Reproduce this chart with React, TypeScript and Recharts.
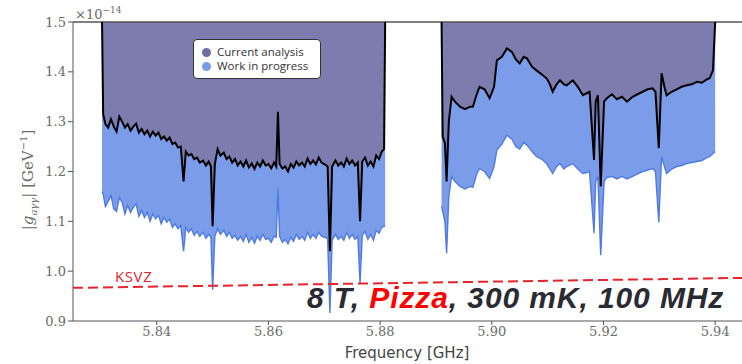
import React from 'react'
import { ComposedChart, Area, Line, XAxis, YAxis, ReferenceLine, Legend } from 'recharts'

// frequency (GHz) and coupling limits (x1e-14 GeV^-1), first scan window
const freqLow = [
  5.8302,
  5.8304, 5.8308, 5.8313, 5.8318, 5.8323, 5.8328, 5.8333, 5.8338, 5.8343, 5.8348,
  5.8353, 5.8358, 5.8363, 5.8368, 5.8373, 5.8378, 5.8383, 5.8388, 5.8393, 5.8398,
  5.8403, 5.8408, 5.8413, 5.8418, 5.8423, 5.8428, 5.8433, 5.8438, 5.8443, 5.8448,
  5.8452, 5.8457, 5.8462, 5.8467, 5.8472, 5.8477,
  5.8483, 5.8488, 5.8493, 5.8497, 5.85, 5.8504, 5.8509, 5.8514, 5.852, 5.8525,
  5.853, 5.8535, 5.854, 5.8545, 5.855, 5.8555, 5.856, 5.8565, 5.857, 5.8575,
  5.858, 5.8585, 5.859, 5.8595, 5.86, 5.8605, 5.861, 5.8614, 5.8617, 5.862,
  5.8625, 5.863, 5.8635, 5.864, 5.8645, 5.865, 5.8655, 5.866, 5.8665, 5.867,
  5.8675, 5.868, 5.8685, 5.869, 5.8695, 5.87, 5.8706, 5.871, 5.8714, 5.872,
  5.8725, 5.873, 5.8735, 5.874, 5.8745, 5.875, 5.8755, 5.876, 5.8764, 5.8768,
  5.8773, 5.8778, 5.8783, 5.8788, 5.8793, 5.8798, 5.8803, 5.8807, 5.8809,
]
const currentLow = [
  1.5,
  1.315, 1.295, 1.288, 1.305, 1.29, 1.28, 1.31, 1.3, 1.288, 1.295,
  1.282, 1.29, 1.296, 1.278, 1.285, 1.275, 1.282, 1.27, 1.28, 1.272,
  1.278, 1.265, 1.27, 1.262, 1.268, 1.255, 1.258, 1.248, 1.25, 1.18,
  1.24, 1.232, 1.235, 1.225, 1.228, 1.218,
  1.222, 1.212, 1.22, 1.21, 1.09, 1.215, 1.245, 1.232, 1.238, 1.225,
  1.23, 1.218, 1.225, 1.212, 1.22, 1.21, 1.222, 1.208, 1.216, 1.205,
  1.218, 1.21, 1.222, 1.212, 1.215, 1.206, 1.218, 1.21, 1.32, 1.215,
  1.206, 1.21, 1.2, 1.215, 1.208, 1.22, 1.212, 1.218, 1.21, 1.226,
  1.215, 1.222, 1.214, 1.228, 1.218, 1.215, 1.21, 1.04, 1.21, 1.222,
  1.212, 1.218, 1.21, 1.226, 1.215, 1.222, 1.212, 1.218, 1.1, 1.22,
  1.228, 1.212, 1.22, 1.21, 1.232, 1.225, 1.24, 1.245, 1.5,
]
const progressLow = [
  1.16,
  1.155, 1.13, 1.14, 1.152, 1.125, 1.12, 1.148, 1.138, 1.115, 1.132,
  1.118, 1.128, 1.135, 1.11, 1.122, 1.108, 1.118, 1.1, 1.115, 1.105,
  1.112, 1.095, 1.108, 1.098, 1.105, 1.088, 1.095, 1.085, 1.092, 1.04,
  1.088, 1.078, 1.085, 1.072, 1.08, 1.07,
  1.078, 1.066, 1.074, 1.068, 0.963, 1.07, 1.085, 1.074, 1.082, 1.07,
  1.078, 1.066, 1.072, 1.062, 1.07, 1.06, 1.074, 1.058, 1.068, 1.056,
  1.07, 1.062, 1.074, 1.064, 1.066, 1.058, 1.07, 1.068, 1.166, 1.07,
  1.058, 1.064, 1.055, 1.068, 1.06, 1.074, 1.064, 1.07, 1.062, 1.078,
  1.066, 1.074, 1.066, 1.078, 1.07, 1.068, 1.066, 0.916, 1.062, 1.074,
  1.064, 1.07, 1.062, 1.078, 1.066, 1.074, 1.064, 1.07, 0.976, 1.072,
  1.08, 1.064, 1.074, 1.062, 1.082, 1.076, 1.088, 1.09, 1.09,
]

// second scan window
const freqHigh = [
  5.891, 5.8912, 5.8916, 5.8919, 5.8923, 5.8928, 5.8934, 5.8943, 5.8952, 5.8961,
  5.8966, 5.8973, 5.8978, 5.8987, 5.8996, 5.9004, 5.9009, 5.9018, 5.9027, 5.9036,
  5.9043, 5.905, 5.9057, 5.9063, 5.9072, 5.908, 5.9089, 5.9098, 5.9104, 5.9109,
  5.9116, 5.9122, 5.9129, 5.9134, 5.9145, 5.9154, 5.9163, 5.917, 5.9175, 5.9183,
  5.9186, 5.919, 5.9195, 5.9201, 5.9206, 5.9215, 5.9224, 5.9233, 5.9242, 5.9252,
  5.9261, 5.927, 5.9279, 5.9288, 5.9293, 5.9299, 5.9304, 5.9309, 5.9313, 5.9322,
  5.9331, 5.934, 5.9349, 5.9358, 5.9367, 5.9376, 5.9385, 5.939, 5.9396, 5.94,
]
const currentHigh = [
  1.5, 1.27, 1.257, 1.18, 1.3, 1.35, 1.34, 1.33, 1.325, 1.33,
  1.33, 1.355, 1.37, 1.365, 1.347, 1.37, 1.423, 1.43, 1.447, 1.44,
  1.425, 1.417, 1.43, 1.427, 1.41, 1.403, 1.395, 1.387, 1.375, 1.36,
  1.375, 1.383, 1.375, 1.373, 1.383, 1.37, 1.353, 1.357, 1.36, 1.223,
  1.34, 1.353, 1.17, 1.34, 1.347, 1.355, 1.345, 1.35, 1.34, 1.35,
  1.355, 1.36, 1.365, 1.367, 1.36, 1.247, 1.397, 1.37, 1.353, 1.36,
  1.365, 1.37, 1.373, 1.375, 1.38, 1.378, 1.385, 1.387, 1.403, 1.5,
]
const progressHigh = [
  1.13, 1.12, 1.1, 1.036, 1.15, 1.19, 1.18, 1.17, 1.165, 1.17,
  1.168, 1.195, 1.206, 1.2, 1.186, 1.21, 1.243, 1.255, 1.273, 1.265,
  1.25, 1.245, 1.258, 1.253, 1.24, 1.23, 1.225, 1.216, 1.205, 1.196,
  1.21, 1.216, 1.205, 1.21, 1.216, 1.205, 1.196, 1.198, 1.2, 1.076,
  1.18, 1.19, 1.032, 1.18, 1.188, 1.19, 1.185, 1.19, 1.185, 1.19,
  1.195, 1.2, 1.203, 1.206, 1.2, 1.098, 1.23, 1.21, 1.196, 1.205,
  1.21, 1.212, 1.216, 1.218, 1.22, 1.222, 1.228, 1.23, 1.236, 1.24,
]

const gapFreq = 5.886
const ksvzFreq = [5.825, 5.9448]
const ksvzValue = [0.9665, 0.9865]
const xTicks = [5.84, 5.86, 5.88, 5.9, 5.92, 5.94]
const yTicks = [0.9, 1.0, 1.1, 1.2, 1.3, 1.4, 1.5]
const Y_TOP = 1.5

const PURPLE = '#7c7caf'
const BLUE = '#7b9de9'

type Row = { f: number; cur?: number | null; wip?: number | null; curBand?: number[] | null; wipBand?: number[] | null; k?: number }

const rows: Row[] = []
rows.push({ f: ksvzFreq[0], k: ksvzValue[0] })
freqLow.forEach((f, i) => {
  rows.push({ f, cur: currentLow[i], wip: progressLow[i], curBand: [currentLow[i], Y_TOP], wipBand: [progressLow[i], currentLow[i]] })
})
rows.push({ f: gapFreq, cur: null, wip: null, curBand: null, wipBand: null })
freqHigh.forEach((f, i) => {
  rows.push({ f, cur: currentHigh[i], wip: progressHigh[i], curBand: [currentHigh[i], Y_TOP], wipBand: [progressHigh[i], currentHigh[i]] })
})
rows.push({ f: ksvzFreq[1], k: ksvzValue[1] })

const tickStyle = { fill: '#6a6a6a', fontFamily: 'DejaVu Serif', fontSize: 13 }

const legendItems = [
  { name: 'Current analysis', color: '#6e6ea0' },
  { name: 'Work in progress', color: '#7a9ce8' },
]

const LegendBox = () => (
  <div style={{
    width: 128, height: 40, background: '#fff', border: '1.5px solid #333', borderRadius: 4,
    fontFamily: 'Open Sans', fontSize: 11.5, color: '#333', boxSizing: 'border-box', padding: '5px 0 0 8px', lineHeight: '14px',
  }}>
    {legendItems.map((it) => (
      <div key={it.name} style={{ display: 'flex', alignItems: 'center' }}>
        <span style={{ width: 9, height: 9, borderRadius: 5, background: it.color, marginRight: 6, display: 'inline-block' }} />
        {it.name}
      </div>
    ))}
  </div>
)

const App = () => {
  return (
    <div style={{ position: 'absolute', left: 0, top: 0, width: 742, height: 364, background: '#fff' }}>
      <ComposedChart width={742} height={364} data={rows} margin={{ top: 22, right: 0, bottom: 0, left: 0 }}>
        <XAxis
          dataKey="f"
          type="number"
          domain={[5.825, 5.9448]}
          ticks={xTicks}
          tickFormatter={(v: number) => v.toFixed(2)}
          tick={tickStyle}
          height={43}
          tickSize={4}
          stroke="#555"
          allowDataOverflow
        />
        <YAxis
          type="number"
          domain={[0.9, 1.5]}
          ticks={yTicks}
          tickFormatter={(v: number) => v.toFixed(1)}
          tick={tickStyle}
          width={73}
          tickSize={5}
          stroke="#555"
          allowDataOverflow
        />
        <ReferenceLine y={1.5} stroke="#555" strokeWidth={1.5} />
        <Area dataKey="curBand" type="linear" fill={PURPLE} fillOpacity={1} stroke="none" isAnimationActive={false} />
        <Area dataKey="wipBand" type="linear" fill={BLUE} fillOpacity={1} stroke="none" isAnimationActive={false} />
        <Line dataKey="wip" type="linear" stroke="#4f7ae0" strokeWidth={1.4} dot={false} isAnimationActive={false} />
        <Line dataKey="cur" type="linear" stroke="#000" strokeWidth={2} dot={false} isAnimationActive={false} />
        <Line dataKey="k" type="linear" stroke="#e8232a" strokeWidth={2} strokeDasharray="10 5" dot={false} connectNulls isAnimationActive={false} />
        <Legend
          layout="vertical"
          verticalAlign="middle"
          align="center"
          content={() => <LegendBox />}
          wrapperStyle={{ left: 193, top: 39, width: 128 }}
        />
      </ComposedChart>
      <svg width={742} height={364} style={{ position: 'absolute', left: 0, top: 0, pointerEvents: 'none' }}>
        <text x={75} y={19} fontFamily="DejaVu Serif" fontSize={13} fill="#6a6a6a">
          ×10<tspan dy={-6} fontSize={9}>−14</tspan>
        </text>
        <text transform="translate(33,180) rotate(-90)" textAnchor="middle" fontFamily="DejaVu Serif" fontSize={15} fill="#6a6a6a">
          |<tspan fontStyle="italic">g</tspan><tspan dy={4} fontSize={10} fontStyle="italic">aγγ</tspan><tspan dy={-4}>| [GeV</tspan><tspan dy={-6} fontSize={10}>−1</tspan><tspan dy={6}>]</tspan>
        </text>
        <text x={407} y={358} textAnchor="middle" fontFamily="DejaVu Sans" fontSize={15} fill="#444">Frequency [GHz]</text>
        <text x={115} y={282} fontFamily="Open Sans" fontSize={15} letterSpacing={0.6} fill="#e0262c">KSVZ</text>
        <text x={307} y={308} fontFamily="Liberation Sans" fontWeight="bold" fontStyle="italic" fontSize={30} letterSpacing={0.9} fill="#2a2a33">
          8 T, <tspan fill="#ff0000">Pizza</tspan>, 300 mK, 100 MHz
        </text>
      </svg>
    </div>
  )
}

export default App
